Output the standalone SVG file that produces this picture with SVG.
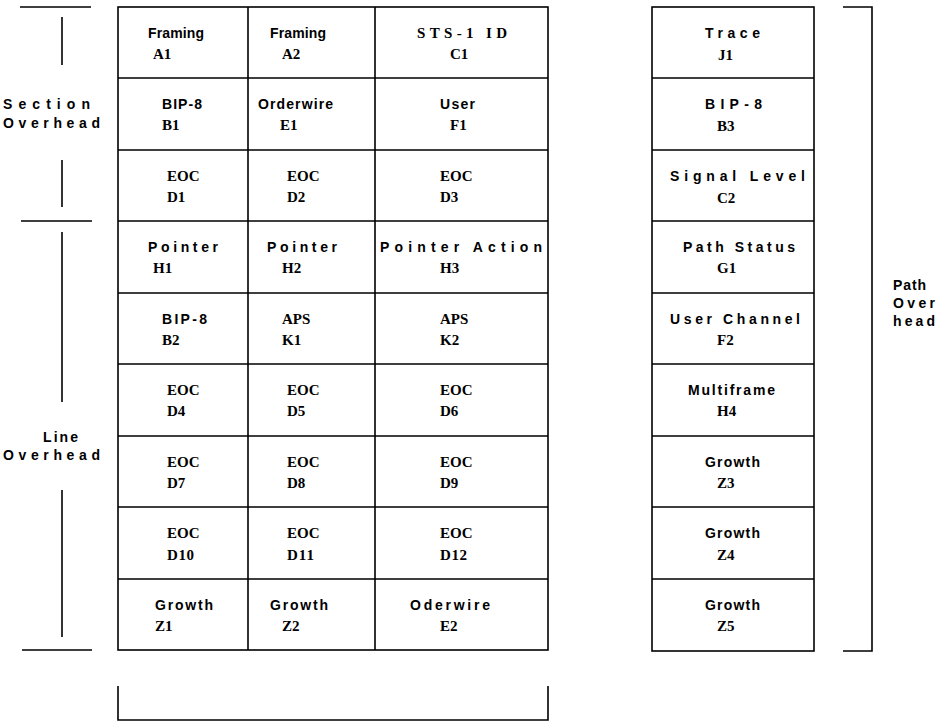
<svg xmlns="http://www.w3.org/2000/svg" width="938" height="722" viewBox="0 0 938 722">
<style>
  text { font-family: "Liberation Sans", Arial, sans-serif; font-weight: bold; font-size: 14px; fill: #000; }
  text.s { font-family: "Liberation Serif", "Times New Roman", serif; font-size: 15px; }
  .ln { stroke: #000; stroke-width: 1.6; fill: none; }
  .cell { stroke: #000; stroke-width: 1.6; fill: #fff; }
</style>
<rect width="938" height="722" fill="#fff"/>
<g id="connectors">
  <path class="ln" d="M20 7H91 M62 17V65 M62 160V207 M21 221H92 M62 232V402 M62 490V637 M22 650H92"/>
  <path class="ln" d="M843 7H872V651H843"/>
  <path class="ln" d="M118 686V720H548V686"/>
</g>
<g id="labels">
  <text x="3" y="109" textLength="87" lengthAdjust="spacing">Section</text>
  <text x="3" y="128" textLength="97" lengthAdjust="spacing">Overhead</text>
  <text x="43" y="442" textLength="35" lengthAdjust="spacing">Line</text>
  <text x="3" y="460" textLength="97" lengthAdjust="spacing">Overhead</text>
  <text x="893" y="290" textLength="33" lengthAdjust="spacing">Path</text>
  <text x="893" y="308" textLength="42" lengthAdjust="spacing">Over</text>
  <text x="893" y="326" textLength="42" lengthAdjust="spacing">head</text>
</g>
<g id="grid">
  <rect class="cell" x="118" y="7" width="430" height="643"/>
  <path class="ln" d="M248 7V650 M375 7V650 M118 78H548 M118 150H548 M118 221H548 M118 293H548 M118 364H548 M118 436H548 M118 507H548 M118 579H548"/>
  <rect class="cell" x="652" y="7" width="162" height="644"/>
  <path class="ln" d="M652 78H814 M652 150H814 M652 221H814 M652 293H814 M652 364H814 M652 436H814 M652 507H814 M652 579H814"/>
</g>
<g id="A1"><text x="148" y="38" textLength="56" lengthAdjust="spacing">Framing</text><text class="s" x="153" y="59">A1</text></g>
<g id="A2"><text x="270" y="38" textLength="56" lengthAdjust="spacing">Framing</text><text class="s" x="282" y="59">A2</text></g>
<g id="C1"><text class="s" x="417" y="38" textLength="90" lengthAdjust="spacing">STS-1  ID</text><text class="s" x="450" y="59">C1</text></g>
<g id="J1"><text x="705" y="38" textLength="55" lengthAdjust="spacing">Trace</text><text class="s" x="718" y="60">J1</text></g>

<g id="B1"><text x="162" y="109" textLength="40" lengthAdjust="spacing">BIP-8</text><text class="s" x="162" y="130">B1</text></g>
<g id="E1"><text x="258" y="109" textLength="75" lengthAdjust="spacing">Orderwire</text><text class="s" x="280" y="130">E1</text></g>
<g id="F1"><text x="440" y="109" textLength="35" lengthAdjust="spacing">User</text><text class="s" x="450" y="130">F1</text></g>
<g id="B3"><text x="705" y="109" textLength="57" lengthAdjust="spacing">BIP-8</text><text class="s" x="717" y="131">B3</text></g>

<g id="D1"><text class="s" x="167" y="181">EOC</text><text class="s" x="167" y="202">D1</text></g>
<g id="D2"><text class="s" x="287" y="181">EOC</text><text class="s" x="287" y="202">D2</text></g>
<g id="D3"><text class="s" x="440" y="181">EOC</text><text class="s" x="440" y="202">D3</text></g>
<g id="C2"><text x="670" y="181" textLength="135" lengthAdjust="spacing">Signal Level</text><text class="s" x="717" y="203">C2</text></g>

<g id="H1"><text x="148" y="252" textLength="70" lengthAdjust="spacing">Pointer</text><text class="s" x="153" y="273">H1</text></g>
<g id="H2"><text x="267" y="252" textLength="70" lengthAdjust="spacing">Pointer</text><text class="s" x="282" y="273">H2</text></g>
<g id="H3"><text x="380" y="252" textLength="162" lengthAdjust="spacing">Pointer Action</text><text class="s" x="440" y="273">H3</text></g>
<g id="G1"><text x="683" y="252" textLength="112" lengthAdjust="spacing">Path Status</text><text class="s" x="717" y="273">G1</text></g>

<g id="B2"><text x="162" y="324" textLength="45" lengthAdjust="spacing">BIP-8</text><text class="s" x="162" y="345">B2</text></g>
<g id="K1"><text class="s" x="282" y="324">APS</text><text class="s" x="282" y="345">K1</text></g>
<g id="K2"><text class="s" x="440" y="324">APS</text><text class="s" x="440" y="345">K2</text></g>
<g id="F2"><text x="670" y="324" textLength="130" lengthAdjust="spacing">User Channel</text><text class="s" x="717" y="345">F2</text></g>

<g id="D4"><text class="s" x="167" y="395">EOC</text><text class="s" x="167" y="416">D4</text></g>
<g id="D5"><text class="s" x="287" y="395">EOC</text><text class="s" x="287" y="416">D5</text></g>
<g id="D6"><text class="s" x="440" y="395">EOC</text><text class="s" x="440" y="416">D6</text></g>
<g id="H4"><text x="688" y="395" textLength="87" lengthAdjust="spacing">Multiframe</text><text class="s" x="717" y="416">H4</text></g>

<g id="D7"><text class="s" x="167" y="467">EOC</text><text class="s" x="167" y="488">D7</text></g>
<g id="D8"><text class="s" x="287" y="467">EOC</text><text class="s" x="287" y="488">D8</text></g>
<g id="D9"><text class="s" x="440" y="467">EOC</text><text class="s" x="440" y="488">D9</text></g>
<g id="Z3"><text x="705" y="467" textLength="55" lengthAdjust="spacing">Growth</text><text class="s" x="717" y="488">Z3</text></g>

<g id="D10"><text class="s" x="167" y="538">EOC</text><text class="s" x="167" y="560" textLength="27" lengthAdjust="spacing">D10</text></g>
<g id="D11"><text class="s" x="287" y="538">EOC</text><text class="s" x="287" y="560" textLength="27" lengthAdjust="spacing">D11</text></g>
<g id="D12"><text class="s" x="440" y="538">EOC</text><text class="s" x="440" y="560" textLength="27" lengthAdjust="spacing">D12</text></g>
<g id="Z4"><text x="705" y="538" textLength="55" lengthAdjust="spacing">Growth</text><text class="s" x="717" y="560">Z4</text></g>

<g id="Z1"><text x="155" y="610" textLength="58" lengthAdjust="spacing">Growth</text><text class="s" x="155" y="631">Z1</text></g>
<g id="Z2"><text x="270" y="610" textLength="58" lengthAdjust="spacing">Growth</text><text class="s" x="282" y="631">Z2</text></g>
<g id="E2"><text x="410" y="610" textLength="80" lengthAdjust="spacing">Oderwire</text><text class="s" x="440" y="631">E2</text></g>
<g id="Z5"><text x="705" y="610" textLength="55" lengthAdjust="spacing">Growth</text><text class="s" x="717" y="631">Z5</text></g>
</svg>
